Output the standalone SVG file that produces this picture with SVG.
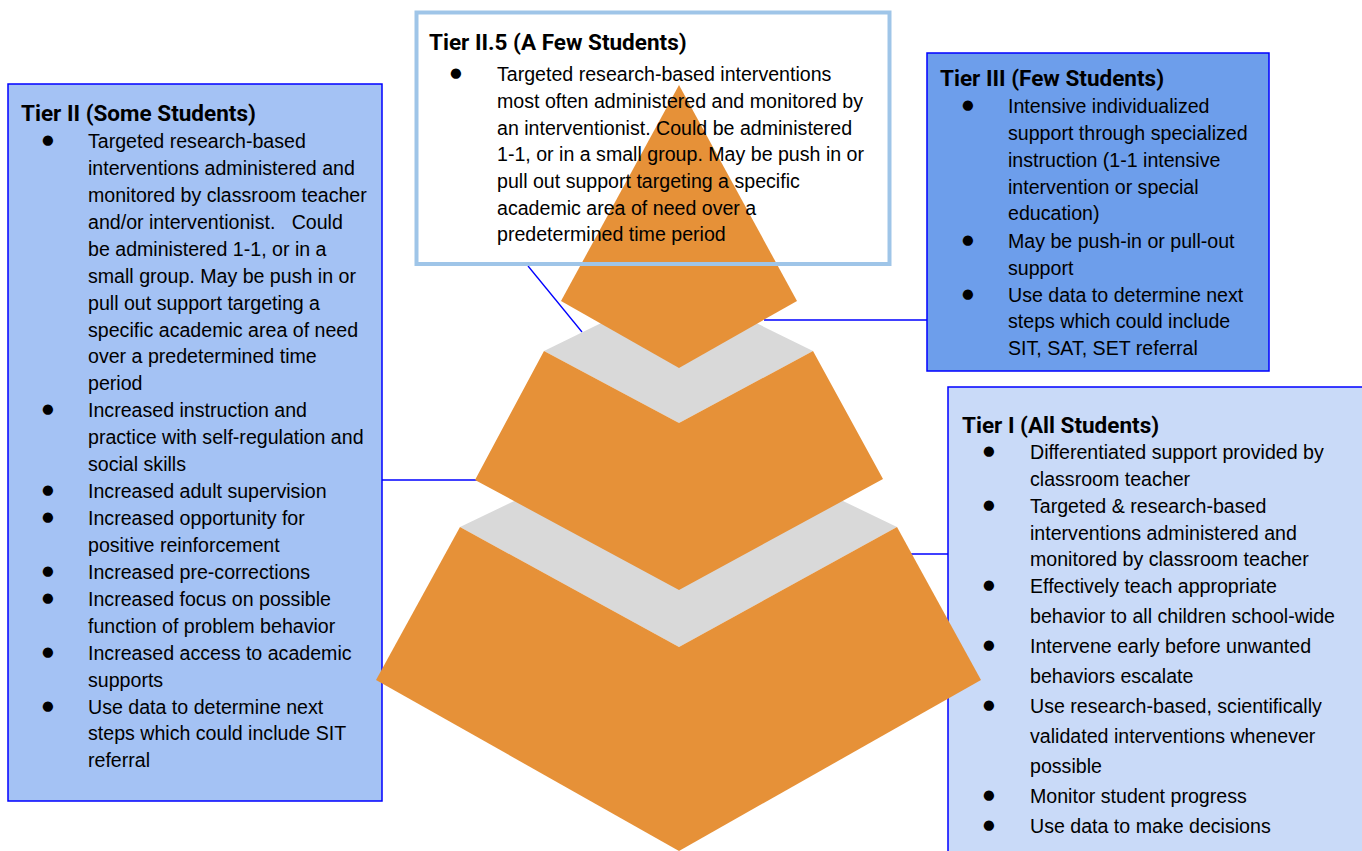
<svg xmlns="http://www.w3.org/2000/svg" width="1362" height="851" viewBox="0 0 1362 851">
<style>
.box{stroke:#0000FF;stroke-width:1.5}
.t{font-family:Roboto,"Liberation Sans",sans-serif;font-weight:bold;font-size:22.5px;fill:#000}
.b{font-family:"Liberation Sans",Arial,sans-serif;font-size:19.6px;fill:#000;white-space:pre}
.d{font-family:"DejaVu Sans",sans-serif;font-size:13.5px;fill:#000}
.or{fill:#E69138}
.gr{fill:#D9D9D9}
.cn{stroke:#0000FF;stroke-width:1.3;fill:none}
</style>
<rect width="1362" height="851" fill="#fff"/>
<g id="tier1">
<rect class="box" x="948" y="387" width="420" height="480" fill="#C9DAF8"/>
<text class="t" x="962" y="433">Tier I (All Students)</text>
<text class="d"><tspan x="983" y="455">●</tspan><tspan x="983" y="509">●</tspan><tspan x="983" y="589">●</tspan><tspan x="983" y="649">●</tspan><tspan x="983" y="709">●</tspan><tspan x="983" y="799">●</tspan><tspan x="983" y="829">●</tspan></text>
<text class="b"><tspan x="1030" y="459">Differentiated support provided by</tspan><tspan x="1030" y="486">classroom teacher</tspan><tspan x="1030" y="513">Targeted &amp; research-based</tspan><tspan x="1030" y="540">interventions administered and</tspan><tspan x="1030" y="566">monitored by classroom teacher</tspan><tspan x="1030" y="593">Effectively teach appropriate</tspan><tspan x="1030" y="623">behavior to all children school-wide</tspan><tspan x="1030" y="653">Intervene early before unwanted</tspan><tspan x="1030" y="683">behaviors escalate</tspan><tspan x="1030" y="713">Use research-based, scientifically</tspan><tspan x="1030" y="743">validated interventions whenever</tspan><tspan x="1030" y="773">possible</tspan><tspan x="1030" y="803">Monitor student progress</tspan><tspan x="1030" y="833">Use data to make decisions</tspan></text>
</g>
<g id="tier2">
<rect class="box" x="8" y="84" width="374" height="717" fill="#A4C2F4"/>
<text class="t" x="21" y="121">Tier II (Some Students)</text>
<text class="d"><tspan x="42" y="144">●</tspan><tspan x="42" y="413">●</tspan><tspan x="42" y="494">●</tspan><tspan x="42" y="521">●</tspan><tspan x="42" y="575">●</tspan><tspan x="42" y="602">●</tspan><tspan x="42" y="656">●</tspan><tspan x="42" y="710">●</tspan></text>
<text class="b"><tspan x="88" y="148">Targeted research-based</tspan><tspan x="88" y="175">interventions administered and</tspan><tspan x="88" y="202">monitored by classroom teacher</tspan><tspan x="88" y="229">and/or interventionist.   Could</tspan><tspan x="88" y="256">be administered 1-1, or in a</tspan><tspan x="88" y="283">small group. May be push in or</tspan><tspan x="88" y="310">pull out support targeting a</tspan><tspan x="88" y="337">specific academic area of need</tspan><tspan x="88" y="363">over a predetermined time</tspan><tspan x="88" y="390">period</tspan><tspan x="88" y="417">Increased instruction and</tspan><tspan x="88" y="444">practice with self-regulation and</tspan><tspan x="88" y="471">social skills</tspan><tspan x="88" y="498">Increased adult supervision</tspan><tspan x="88" y="525">Increased opportunity for</tspan><tspan x="88" y="552">positive reinforcement</tspan><tspan x="88" y="579">Increased pre-corrections</tspan><tspan x="88" y="606">Increased focus on possible</tspan><tspan x="88" y="633">function of problem behavior</tspan><tspan x="88" y="660">Increased access to academic</tspan><tspan x="88" y="687">supports</tspan><tspan x="88" y="714">Use data to determine next</tspan><tspan x="88" y="740">steps which could include SIT</tspan><tspan x="88" y="767">referral</tspan></text>
</g>
<g id="tier3">
<rect class="box" x="927" y="53" width="342" height="318" fill="#6D9EEB"/>
<text class="t" x="940" y="86">Tier III (Few Students)</text>
<text class="d"><tspan x="962" y="109">●</tspan><tspan x="962" y="244">●</tspan><tspan x="962" y="298">●</tspan></text>
<text class="b"><tspan x="1008" y="113">Intensive individualized</tspan><tspan x="1008" y="140">support through specialized</tspan><tspan x="1008" y="167">instruction (1-1 intensive</tspan><tspan x="1008" y="194">intervention or special</tspan><tspan x="1008" y="220">education)</tspan><tspan x="1008" y="248">May be push-in or pull-out</tspan><tspan x="1008" y="275">support</tspan><tspan x="1008" y="302">Use data to determine next</tspan><tspan x="1008" y="328">steps which could include</tspan><tspan x="1008" y="355">SIT, SAT, SET referral</tspan></text>
</g>
<g id="connectors">
<line class="cn" x1="382" y1="480" x2="478" y2="480"/>
<line class="cn" x1="764" y1="320" x2="927" y2="320"/>
<line class="cn" x1="911" y1="554" x2="948" y2="554"/>
<line class="cn" x1="528" y1="266" x2="582" y2="332"/>
</g>
<g id="pyramid">
<polygon class="gr" points="460,527 679,422 897,527 679,647"/>
<polygon class="or" points="460,527 679,647 679,851 376,680"/>
<polygon class="or" points="679,647 897,527 981,680 679,851"/>
<polygon class="gr" points="544,351 679,285 813,351 679,423"/>
<polygon class="or" points="544,351 679,423 813,351 883,479 679,590 475,480"/>
<polygon class="or" points="679,85 797,301 679,368 561,301"/>
</g>
<g id="tier2_5">
<rect x="416.5" y="12.5" width="473" height="251.5" fill="none" stroke="#9FC5E8" stroke-width="4"/>
<text class="t" x="429" y="50">Tier II.5 (A Few Students)</text>
<text class="d"><tspan x="450" y="77">●</tspan></text>
<text class="b"><tspan x="497" y="81">Targeted research-based interventions</tspan><tspan x="497" y="108">most often administered and monitored by</tspan><tspan x="497" y="135">an interventionist. Could be administered</tspan><tspan x="497" y="161">1-1, or in a small group. May be push in or</tspan><tspan x="497" y="188">pull out support targeting a specific</tspan><tspan x="497" y="215">academic area of need over a</tspan><tspan x="497" y="241">predetermined time period</tspan></text>
</g>
</svg>
